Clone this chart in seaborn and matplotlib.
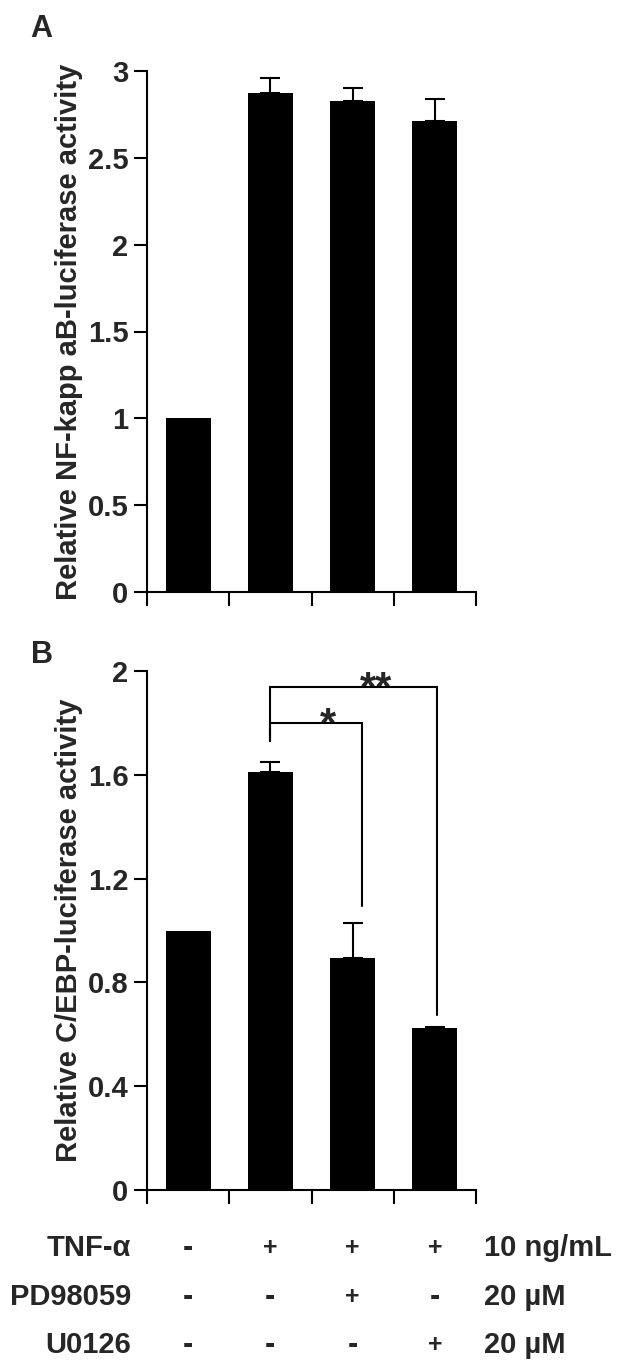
import matplotlib
matplotlib.use("Agg")
import matplotlib.pyplot as plt
import matplotlib.transforms as mtransforms
import seaborn as sns
import pandas as pd

# ---------------- data ----------------
conditions = ["Control", "TNF-α", "TNF-α + PD98059", "TNF-α + U0126"]
nfkb_values = [1.00, 2.873, 2.83, 2.71]
nfkb_errors = [0.00, 0.087, 0.07, 0.13]
cebp_values = [1.00, 1.61, 0.894, 0.624]
cebp_errors = [0.00, 0.04, 0.136, 0.006]

yticks_a = [0, 0.5, 1, 1.5, 2, 2.5, 3]
ytick_labels_a = ["0", "0.5", "1", "1.5", "2", "2.5", "3"]
yticks_b = [0, 0.4, 0.8, 1.2, 1.6, 2]
ytick_labels_b = ["0", "0.4", "0.8", "1.2", "1.6", "2"]

ylabel_a = "Relative NF-kapp aB-luciferase activity"
ylabel_b = "Relative C/EBP-luciferase activity"

treatment_names = ["TNF-α", "PD98059", "U0126"]
treatment_signs = [["-", "+", "+", "+"],
                   ["-", "-", "+", "-"],
                   ["-", "-", "-", "+"]]
treatment_doses = ["10 ng/mL", "20 µM", "20 µM"]

# significance brackets: (left x, right x, bar height, left leg end, right leg end, label, label x)
sig_brackets = [
    (1.0, 2.12, 1.80, 1.73, 1.094, "*", 1.70),
    (1.0, 3.02, 1.94, 1.73, 0.674, "**", 2.29),
]

# ---------------- style ----------------
sns.set_style("ticks")
plt.rcParams["font.family"] = ["Liberation Sans", "DejaVu Sans"]
plt.rcParams["font.weight"] = "bold"
FS = 21
LW = 1.5

W, H = 624, 1371
fig = plt.figure(figsize=(W / 100, H / 100), dpi=100)

ax_a = fig.add_axes([147 / W, 1 - 592 / H, 329 / W, 521 / H])
ax_b = fig.add_axes([147 / W, 1 - 1190 / H, 329 / W, 519 / H])


def draw_panel(ax, values, errors, yticks, yticklabels, ylim, ylabel):
    df = pd.DataFrame({"condition": conditions, "value": values})
    sns.barplot(data=df, x="condition", y="value", color="black",
                saturation=1, width=0.55, errorbar=None, ax=ax, zorder=2)
    for p in ax.patches:
        p.set_edgecolor("black")
        p.set_linewidth(0)
    idx = [i for i, e in enumerate(errors) if e > 0]
    ax.errorbar([i for i in idx], [values[i] for i in idx],
                yerr=[[0] * len(idx), [errors[i] for i in idx]],
                fmt="none", ecolor="black", elinewidth=LW, capsize=7.5,
                capthick=LW, zorder=3)
    ax.set_xlim(-0.5, 3.5)
    ax.set_ylim(*ylim)
    ax.set_xticks([-0.5, 0.5, 1.5, 2.5, 3.5])
    ax.set_xticklabels([])
    ax.set_xlabel("")
    ax.set_yticks(yticks)
    ax.set_yticklabels(yticklabels, fontsize=FS, fontweight="bold")
    ax.set_ylabel(ylabel, fontsize=FS, fontweight="bold")
    ax.yaxis.set_label_coords(-0.195, 0.5)
    ax.tick_params(axis="y", direction="out", length=9.5, width=LW, pad=4,
                   color="black")
    ax.tick_params(axis="x", direction="out", length=10, width=LW,
                   color="black")
    for s in ["top", "right"]:
        ax.spines[s].set_visible(False)
    for s in ["left", "bottom"]:
        ax.spines[s].set_linewidth(LW)
        ax.spines[s].set_color("black")
    ax.set_facecolor("white")


draw_panel(ax_a, nfkb_values, nfkb_errors, yticks_a, ytick_labels_a,
           (0, 3), ylabel_a)
draw_panel(ax_b, cebp_values, cebp_errors, yticks_b, ytick_labels_b,
           (0, 2), ylabel_b)

# significance brackets
for x0, x1, yb, yl, yr, lab, xl in sig_brackets:
    ax_b.plot([x0, x0, x1, x1], [yl, yb, yb, yr], color="black", lw=LW,
              solid_joinstyle="miter", zorder=4)
    ax_b.annotate(lab, xy=(xl, yb), xytext=(0, -9.5), textcoords="offset points",
                  ha="center", va="baseline", fontsize=30, fontweight="bold")

# panel letters
fig.text(30 / W, 1 - 29 / H, "A", fontsize=22, fontweight="bold",
         ha="left", va="center")
fig.text(31 / W, 1 - 655 / H, "B", fontsize=22, fontweight="bold",
         ha="left", va="center")

# treatment table
row_y = [1248, 1297, 1345]
trans = mtransforms.blended_transform_factory(ax_b.transData, fig.transFigure)
for r, (name, signs, dose) in enumerate(zip(treatment_names, treatment_signs,
                                            treatment_doses)):
    yf = 1 - row_y[r] / H
    fig.text(131 / W, yf, name, fontsize=FS, fontweight="bold",
             ha="right", va="center")
    for i, s in enumerate(signs):
        ax_b.text(i, yf, s, transform=trans, fontsize=18 if s == "+" else 22,
                  fontweight="bold", ha="center", va="center")
    fig.text(484 / W, yf, dose, fontsize=FS, fontweight="bold",
             ha="left", va="center")

fig.savefig("out.png", dpi=100, facecolor="white")
